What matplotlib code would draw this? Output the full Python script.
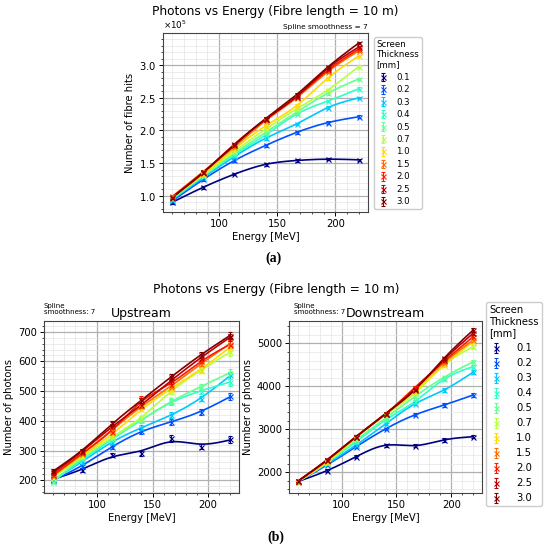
import numpy as np
import matplotlib
matplotlib.use('Agg')
import matplotlib.pyplot as plt
from matplotlib.ticker import AutoMinorLocator, MultipleLocator
from matplotlib.colors import LogNorm

# ---------------- data ----------------
energy = [60, 86.67, 113.33, 140, 166.67, 193.33, 220]
thickness = [0.1, 0.2, 0.3, 0.4, 0.5, 0.7, 1.0, 1.5, 2.0, 2.5, 3.0]
thickness_labels = ['0.1', '0.2', '0.3', '0.4', '0.5', '0.7', '1.0', '1.5', '2.0', '2.5', '3.0']

# (a) number of fibre hits, in units of 1e5
fibre_hits = [
    [0.90, 1.13, 1.33, 1.48, 1.54, 1.56, 1.55],
    [0.92, 1.25, 1.54, 1.77, 1.97, 2.12, 2.21],
    [0.94, 1.28, 1.60, 1.88, 2.10, 2.35, 2.50],
    [0.95, 1.30, 1.63, 1.93, 2.25, 2.45, 2.64],
    [0.96, 1.31, 1.65, 1.97, 2.28, 2.57, 2.79],
    [0.97, 1.32, 1.68, 2.02, 2.33, 2.62, 2.98],
    [0.98, 1.33, 1.72, 2.07, 2.38, 2.80, 3.14],
    [0.99, 1.37, 1.75, 2.15, 2.50, 2.90, 3.22],
    [0.98, 1.35, 1.78, 2.17, 2.52, 2.92, 3.25],
    [0.98, 1.36, 1.79, 2.17, 2.52, 2.95, 3.28],
    [0.97, 1.36, 1.78, 2.18, 2.55, 2.97, 3.34],
]
fibre_err = [0.02, 0.02, 0.02, 0.02, 0.02, 0.02, 0.02]

# (b) upstream photons
upstream = [
    [204, 234, 285, 290, 341, 313, 338],
    [200, 248, 313, 365, 396, 430, 482],
    [200, 262, 330, 377, 419, 475, 553],
    [195, 270, 337, 402, 463, 500, 530],
    [195, 277, 341, 402, 466, 514, 562],
    [209, 279, 346, 408, 502, 569, 631],
    [214, 285, 352, 441, 508, 572, 648],
    [215, 288, 369, 450, 515, 592, 660],
    [217, 293, 361, 475, 519, 603, 656],
    [225, 296, 382, 452, 536, 612, 681],
    [231, 299, 391, 469, 547, 622, 687],
]
upstream_err = [6, 7, 8, 9, 11, 9, 12]

# (b) downstream photons
downstream = [
    [1783, 2039, 2364, 2628, 2620, 2752, 2828],
    [1780, 2170, 2597, 3008, 3333, 3565, 3797],
    [1780, 2194, 2636, 3124, 3589, 3914, 4330],
    [1780, 2225, 2713, 3217, 3643, 4163, 4456],
    [1780, 2225, 2752, 3256, 3760, 4209, 4572],
    [1780, 2230, 2800, 3333, 3837, 4495, 4921],
    [1785, 2250, 2820, 3357, 3876, 4495, 5037],
    [1790, 2270, 2830, 3357, 3930, 4550, 5077],
    [1790, 2280, 2830, 3357, 3969, 4580, 5154],
    [1790, 2287, 2830, 3357, 3930, 4620, 5233],
    [1790, 2287, 2830, 3357, 3915, 4651, 5309],
]
downstream_err = [25, 28, 30, 32, 35, 40, 40]

W, H = 550, 550
fig = plt.figure(figsize=(5.5, 5.5), dpi=100)
cmap = plt.get_cmap('jet')
norm = LogNorm(vmin=min(thickness), vmax=max(thickness))
colors = [cmap(norm(t)) for t in thickness]


def px_axes(l, t, r, b):
    return fig.add_axes([l / W, 1 - b / H, (r - l) / W, (b - t) / H])


def smooth_curve(x, y, lam, n=241):
    x = np.asarray(x, float)
    xs = np.linspace(x[0], x[-1], n)
    idx = np.round((x - x[0]) / (x[-1] - x[0]) * (n - 1)).astype(int)
    w = np.zeros(n)
    w[idx] = 1.0
    b = np.zeros(n)
    b[idx] = y
    D = np.diff(np.eye(n), 2, axis=0)
    A = np.diag(w) + lam * D.T @ D
    return xs, np.linalg.solve(A, b)


def style_axes(ax, ylim, major):
    ax.set_xlim(52, 228)
    ax.set_ylim(*ylim)
    ax.xaxis.set_major_locator(MultipleLocator(50))
    ax.yaxis.set_major_locator(MultipleLocator(major))
    ax.xaxis.set_minor_locator(AutoMinorLocator())
    ax.yaxis.set_minor_locator(AutoMinorLocator())
    ax.grid(which='major', color='#b0b0b0', lw=0.9)
    ax.grid(which='minor', color='#e4e4e4', lw=0.5)
    ax.set_axisbelow(True)
    ax.tick_params(which='major', labelsize=7.2, length=3, width=0.7, pad=2)
    ax.tick_params(which='minor', length=1.6, width=0.5)
    for s in ax.spines.values():
        s.set_color('#444444')
        s.set_linewidth(0.8)
    ax.set_xlabel('Energy [MeV]', fontsize=7.2, labelpad=2)


def draw_series(ax, data, err, lam, scale=1.0):
    handles = []
    for row, c, lab in zip(data, colors, thickness_labels):
        yv = np.asarray(row, float) * scale
        xs, zs = smooth_curve(energy, yv, lam)
        ax.plot(xs, zs, color=c, lw=1.2, zorder=2)
        h = ax.errorbar(energy, yv, yerr=np.asarray(err) * scale, fmt='x', color=c,
                        ms=3.6, mew=0.8, elinewidth=0.8, capsize=1.4, capthick=0.7,
                        label=lab, zorder=3)
        handles.append(h)
    return handles


# ---------------- (a) ----------------
ax1 = px_axes(163, 33, 368, 212)
h1 = draw_series(ax1, fibre_hits, fibre_err, 30, scale=1e5)
style_axes(ax1, (0.75e5, 3.495e5), 0.5e5)
ax1.ticklabel_format(axis='y', style='sci', scilimits=(0, 0), useMathText=True)
ax1.yaxis.get_offset_text().set_fontsize(6.3)
ax1.set_ylabel('Number of fibre hits', fontsize=7.2, labelpad=3)
ax1.text(1.0, 1.015, 'Spline smoothness = 7', transform=ax1.transAxes,
         ha='right', va='bottom', fontsize=5.3)
fig.text(275 / W, 1 - 11 / H, 'Photons vs Energy (Fibre length = 10 m)',
         ha='center', va='center', fontsize=8.7)
leg1 = fig.legend(handles=h1, labels=thickness_labels, loc='upper left',
                  bbox_to_anchor=(374 / W, 1 - 37 / H), bbox_transform=fig.transFigure,
                  fontsize=6.2, title='Screen\nThickness\n[mm]', title_fontsize=6.2,
                  alignment='left', borderaxespad=0, handlelength=1.4, handletextpad=0.9,
                  labelspacing=0.4, borderpad=0.3, framealpha=1, edgecolor='#cccccc')
fig.text(273 / W, 1 - 258 / H, '(a)', ha='center', va='center', fontsize=10,
         family='Liberation Serif', weight='bold')

# ---------------- (b) ----------------
fig.text(276 / W, 1 - 290 / H, 'Photons vs Energy (Fibre length = 10 m)',
         ha='center', va='center', fontsize=8.7)

ax2 = px_axes(44, 321, 239, 493)
draw_series(ax2, upstream, upstream_err, 3000)
style_axes(ax2, (157, 736), 100)
ax2.set_ylabel('Number of photons', fontsize=7.2, labelpad=3)
ax2.set_title('Upstream', fontsize=9, pad=3)
fig.text(44 / W, 1 - 315 / H, 'Spline\nsmoothness: 7', ha='left', va='bottom',
         fontsize=5.0, linespacing=1.0)

ax3 = px_axes(289, 321, 482, 493)
h3 = draw_series(ax3, downstream, downstream_err, 30)
style_axes(ax3, (1518, 5519), 1000)
ax3.set_ylabel('Number of photons', fontsize=7.2, labelpad=3)
ax3.set_title('Downstream', fontsize=9, pad=3)
fig.text(294 / W, 1 - 315 / H, 'Spline\nsmoothness: 7', ha='left', va='bottom',
         fontsize=5.0, linespacing=1.0)

leg3 = fig.legend(handles=h3, labels=thickness_labels, loc='upper left',
                  bbox_to_anchor=(486 / W, 1 - 302 / H), bbox_transform=fig.transFigure,
                  fontsize=7.2, title='Screen\nThickness\n[mm]', title_fontsize=7.2,
                  alignment='left', borderaxespad=0, handlelength=1.4, handletextpad=1.3,
                  labelspacing=0.5, borderpad=0.3, framealpha=1, edgecolor='#cccccc')
fig.text(276 / W, 1 - 537 / H, '(b)', ha='center', va='center', fontsize=10,
         family='Liberation Serif', weight='bold')

fig.savefig('out.png', dpi=100)
